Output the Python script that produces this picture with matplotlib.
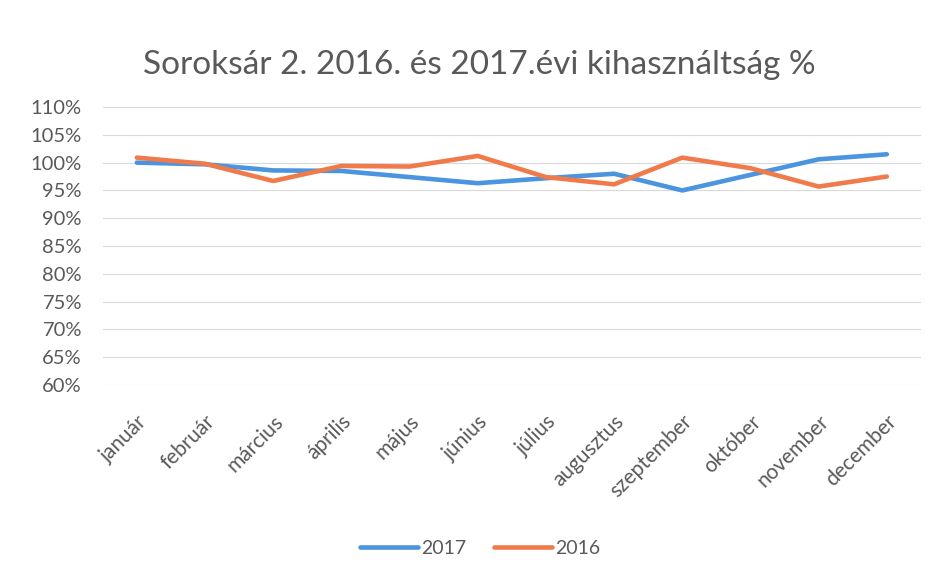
import matplotlib.pyplot as plt
import matplotlib.ticker as mticker

months = ["január", "február", "március", "április", "május", "június",
          "július", "augusztus", "szeptember", "október", "november", "december"]
y2017 = [100.0, 99.7, 98.6, 98.5, 97.4, 96.3, 97.2, 98.0, 95.0, 97.8, 100.6, 101.5]
y2016 = [100.9, 99.8, 96.7, 99.4, 99.3, 101.2, 97.4, 96.1, 100.9, 99.0, 95.7, 97.5]
yticks = list(range(60, 111, 5))

blue = "#4a94e0"
orange = "#f07a4a"
grey = "#595959"

plt.rcParams['font.family'] = ['Lato', 'DejaVu Sans']

fig = plt.figure(figsize=(9.34, 5.8), dpi=100)
ax = fig.add_axes([0.110, 0.336, 0.876, 0.4795])

x = range(len(months))
ax.plot(x, y2017, color=blue, lw=3.3, label="2017", solid_capstyle='round')
ax.plot(x, y2016, color=orange, lw=3.3, label="2016", solid_capstyle='round')

ax.set_xlim(-0.5, len(months) - 0.5)
ax.set_ylim(60, 110)
ax.set_yticks(yticks)
ax.yaxis.set_major_formatter(mticker.FuncFormatter(lambda v, p: f"{v:.0f}%"))
ax.grid(axis='y', color='#d9d9d9', lw=0.8)
ax.set_axisbelow(True)
for s in ax.spines.values():
    s.set_visible(False)
ax.tick_params(axis='y', length=0, labelsize=14.5, colors=grey, pad=15)

ax.set_xticks(list(x))
ax.set_xticklabels(months, rotation=45, ha='right', va='top', rotation_mode='anchor')
ax.tick_params(axis='x', length=0, labelsize=15, colors=grey, pad=19)

fig.text(0.513, 0.888, "Soroksár 2. 2016. és 2017.évi kihasználtság %",
         ha='center', va='center', fontsize=24, color=grey)

leg = fig.legend(loc='center', bbox_to_anchor=(0.514, 0.055), ncol=2, frameon=False,
                 fontsize=14, handlelength=3.0, handletextpad=0.15, columnspacing=1.4)
for t in leg.get_texts():
    t.set_color(grey)

fig.savefig("out.png", dpi=100, facecolor='white')
